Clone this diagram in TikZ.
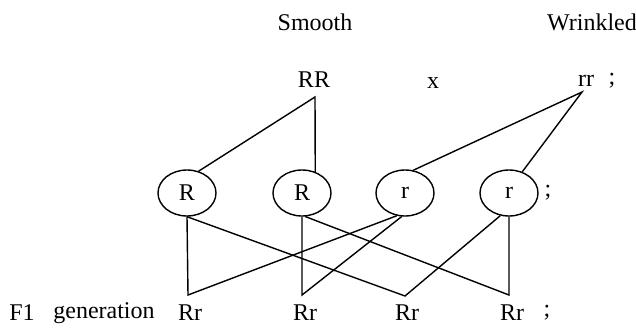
\documentclass[tikz,border=0pt]{standalone}
\usepackage{fontspec}
\setmainfont{Liberation Serif}
\usetikzlibrary{shapes.geometric}
\begin{document}
\begin{tikzpicture}[x=1pt,y=-1pt,line width=1.4pt,
  font=\fontsize{24}{28}\selectfont,
  gamete/.style={ellipse,draw,inner sep=0pt,minimum width=58pt,minimum height=46pt},
  lbl/.style={inner sep=1pt}]
\useasboundingbox (0,0) rectangle (636,327);
% parents
\node[lbl] (smooth) at (315,22) {Smooth};
\node[lbl] (wrinkled) at (592,22) {Wrinkled};
\node[lbl] (RR) at (314,80) {RR};
\node[lbl] (cross) at (433,83) {x};
\node[lbl] (rr) at (586,81) {rr};
\node[lbl] (semi1) at (612,81) {;};
\coordinate (pRR) at (315,97);
\coordinate (prr) at (582,92);
% gametes
\foreach \n/\x/\t in {1/187/R,2/302/R,3/405/r,4/509/r}
{
  \node[gamete] (c\n) at (\x,193) {\t};
}
\node[lbl] (semi2) at (548,193) {;};
\draw (c1.62) -- (pRR) -- (c2.58);
\draw (c3.70) -- (prr) -- (c4.58);
% F1 generation
\node[lbl] (F1) at (22,313) {F1};
\node[lbl] (gen) at (104,313) {generation};
\foreach \n/\x in {1/190,2/305,3/407,4/512}
{
  \node[lbl] (f\n) at (\x,313) {Rr};
}
\node[lbl] (semi3) at (547,313) {;};
\coordinate (a1) at (188,295);
\coordinate (a2) at (302,295);
\coordinate (a3) at (405,296);
\coordinate (a4) at (509,295);
\draw (c1.south) -- (a1) -- (c3.250);
\draw (c2.south) -- (a2) -- (c3.262);
\draw (c1.south) -- (a3) -- (c4.249);
\draw (c2.-82) -- (a4) -- (c4.south);
\end{tikzpicture}
\end{document}
